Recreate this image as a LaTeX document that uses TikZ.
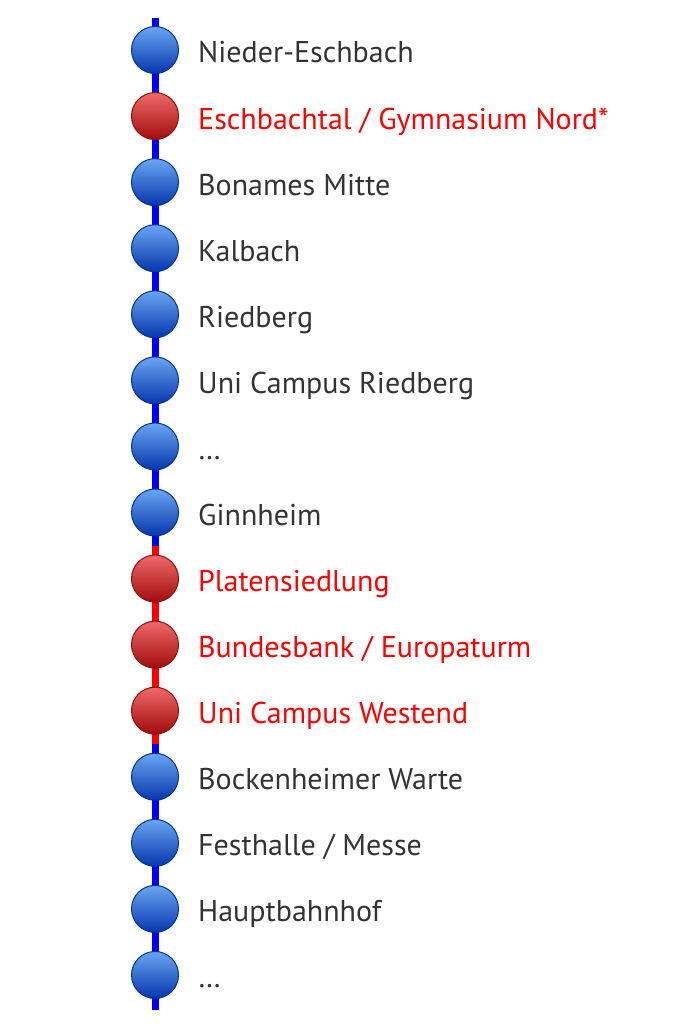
\documentclass[tikz,border=0pt]{standalone}
\usepackage{fontspec}
\setmainfont{PT Sans}
\usetikzlibrary{backgrounds,calc}
\definecolor{txtgray}{HTML}{333333}
\definecolor{txtred}{HTML}{FF0000}
\definecolor{lineblue}{HTML}{0000FF}
\definecolor{linered}{HTML}{FF0000}
\definecolor{btop}{HTML}{6AA6F2}
\definecolor{bmid}{HTML}{1A62DA}
\definecolor{bbot}{HTML}{0636AC}
\definecolor{bbord}{HTML}{00329C}
\definecolor{rtop}{HTML}{F06A6A}
\definecolor{rmid}{HTML}{D81A1A}
\definecolor{rbot}{HTML}{A00C0C}
\definecolor{rbord}{HTML}{8E0E0E}
\tikzset{
  stationbase/.style={circle, minimum size=47pt, inner sep=0pt, line width=1pt},
  bluest/.style={stationbase, draw=bbord, top color=btop, middle color=bmid, bottom color=bbot},
  redst/.style={stationbase, draw=rbord, top color=rtop, middle color=rmid, bottom color=rbot},
  lbl/.style={anchor=base west, inner sep=0pt, font=\fontsize{30}{36}\selectfont, text=txtgray},
  rlbl/.style={lbl, text=txtred},
  bline/.style={draw=lineblue, line width=7pt},
  rline/.style={draw=linered, line width=7pt},
}
\begin{document}
\begin{tikzpicture}[x=1pt,y=-1pt]
\useasboundingbox (0,0) rectangle (684,1024);
\def\sx{155}
\def\dy{66.07}
\foreach \i/\st/\ls/\t in {
 0/bluest/lbl/{Nieder-Eschbach},
 1/redst/rlbl/{Eschbachtal / Gymnasium Nord*},
 2/bluest/lbl/{Bonames Mitte},
 3/bluest/lbl/{Kalbach},
 4/bluest/lbl/{Riedberg},
 5/bluest/lbl/{Uni Campus Riedberg},
 6/bluest/lbl/{\dots},
 7/bluest/lbl/{Ginnheim},
 8/redst/rlbl/{Platensiedlung},
 9/redst/rlbl/{Bundesbank / Europaturm},
 10/redst/rlbl/{Uni Campus Westend},
 11/bluest/lbl/{Bockenheimer Warte},
 12/bluest/lbl/{Festhalle / Messe},
 13/bluest/lbl/{Hauptbahnhof},
 14/bluest/lbl/{\dots}}{
  \pgfmathsetmacro{\cy}{50+\dy*\i}
  \node[\st] (s\i) at (\sx,\cy) {};
  \node[\ls] (l\i) at (198,\cy+13) {\t};
}
\coordinate (top) at (\sx,18);
\coordinate (bot) at (\sx,1010);
\coordinate (m78) at ($(s7)!0.5!(s8)$);
\coordinate (m1011) at ($(s10)!0.5!(s11)$);
\begin{scope}[on background layer]
  \draw[bline] (top) -- (s0.center);
  \foreach \a/\b in {0/1,1/2,2/3,3/4,4/5,5/6,6/7,11/12,12/13,13/14}
    \draw[bline] (s\a.center) -- (s\b.center);
  \draw[bline] (s7.center) -- (m78);
  \draw[rline] (m78) -- (s8.center);
  \draw[rline] (s8.center) -- (s9.center);
  \draw[rline] (s9.center) -- (s10.center);
  \draw[rline] (s10.center) -- (m1011);
  \draw[bline] (m1011) -- (s11.center);
  \draw[bline] (s14.center) -- (bot);
\end{scope}
\end{tikzpicture}
\end{document}
